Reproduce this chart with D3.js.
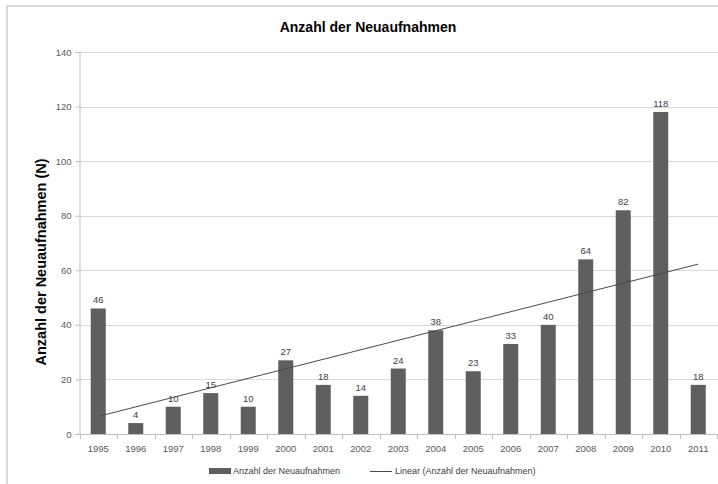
<!DOCTYPE html>
<html><head><meta charset="utf-8">
<script src="https://cdn.jsdelivr.net/npm/d3@7"></script>
<style>body{margin:0;background:#fff;} svg{display:block;font-family:"Liberation Sans",Arial,sans-serif;}</style>
</head><body>
<svg id="c" width="718" height="484"></svg>
<script>
const years = ["1995","1996","1997","1998","1999","2000","2001","2002","2003","2004","2005","2006","2007","2008","2009","2010","2011"];
const counts = [46,4,10,15,10,27,18,14,24,38,23,33,40,64,82,118,18];
const yTicks = [0,20,40,60,80,100,120,140];
const title = "Anzahl der Neuaufnahmen";
const yTitle = "Anzahl der Neuaufnahmen (N)";
const legendBar = "Anzahl der Neuaufnahmen";
const legendLine = "Linear (Anzahl der Neuaufnahmen)";

const svg = d3.select("#c");
const pLeft = 79.5, pRight = 717, pTop = 52, pBottom = 434;

// chart border
svg.append("path").attr("d","M7,484V6H718").attr("fill","none").attr("stroke","#d9d9d9").attr("stroke-width",2);

const x = d3.scaleBand().domain(years).range([pLeft,pRight]).paddingInner(0.6).paddingOuter(0.3);
const y = d3.scaleLinear().domain([0,140]).range([pBottom,pTop]);

// gridlines
svg.append("g").selectAll("line").data(yTicks.filter(d=>d>0)).join("line")
  .attr("x1",pLeft).attr("x2",718).attr("y1",d=>Math.round(y(d))+0.5).attr("y2",d=>Math.round(y(d))+0.5)
  .attr("stroke","#d9d9d9").attr("stroke-width",1);

// y axis
const ya = svg.append("g").attr("transform",`translate(${pLeft},0)`)
  .call(d3.axisLeft(y).tickValues(yTicks).tickSize(4).tickPadding(4));
ya.select(".domain").attr("stroke","#bfbfbf");
ya.selectAll(".tick line").attr("stroke","#bfbfbf");
ya.selectAll("text").attr("fill","#595959").style("font-size","9.5px").style("font-family","'Liberation Sans',Arial,sans-serif");

// bars
svg.append("g").selectAll("rect").data(counts).join("rect")
  .attr("x",(d,i)=>x(years[i])).attr("width",x.bandwidth())
  .attr("y",d=>y(d)).attr("height",d=>y(0)-y(d)).attr("fill","#5f5f5f");

// x axis
const xa = svg.append("g");
xa.append("line").attr("x1",pLeft-4).attr("x2",718).attr("y1",pBottom+0.5).attr("y2",pBottom+0.5).attr("stroke","#bfbfbf");
xa.selectAll("line.t").data(d3.range(years.length+1)).join("line").attr("class","t")
  .attr("x1",i=>Math.round(pLeft+i*x.step())+0.5)
  .attr("x2",i=>Math.round(pLeft+i*x.step())+0.5)
  .attr("y1",pBottom).attr("y2",pBottom+5).attr("stroke","#bfbfbf");
xa.selectAll("text").data(years).join("text")
  .attr("x",d=>x(d)+x.bandwidth()/2).attr("y",pBottom+18).attr("text-anchor","middle")
  .attr("fill","#595959").style("font-size","9.5px").text(d=>d);

// data labels
svg.append("g").selectAll("text").data(counts).join("text")
  .attr("x",(d,i)=>x(years[i])+x.bandwidth()/2).attr("y",d=>y(d)-5).attr("text-anchor","middle")
  .attr("fill","#404040").style("font-size","9.5px").text(d=>d);

// linear trend (least squares on the data)
const n = counts.length, xs = d3.range(n);
const mx = d3.mean(xs), my = d3.mean(counts);
const slope = d3.sum(xs,(xi,i)=>(xi-mx)*(counts[i]-my))/d3.sum(xs,xi=>(xi-mx)*(xi-mx));
const icpt = my - slope*mx;
const cx = i => x(years[i])+x.bandwidth()/2;
svg.append("line").attr("x1",cx(0)).attr("y1",y(icpt)).attr("x2",cx(n-1)).attr("y2",y(icpt+slope*(n-1)))
  .attr("stroke","#4a4a4a").attr("stroke-width",1);

// title
svg.append("text").attr("x",368).attr("y",32).attr("text-anchor","middle")
  .style("font-size","14px").style("font-weight","bold").attr("fill","#000").text(title);
svg.append("text").attr("transform","translate(46,262) rotate(-90)").attr("text-anchor","middle")
  .style("font-size","14.5px").style("font-weight","bold").attr("fill","#000").text(yTitle);

// legend
const lg = svg.append("g");
lg.append("rect").attr("x",209).attr("y",468).attr("width",22).attr("height",6).attr("fill","#5f5f5f");
lg.append("text").attr("x",233).attr("y",474).attr("fill","#404040").style("font-size","9px").text(legendBar);
lg.append("line").attr("x1",370).attr("x2",392).attr("y1",471.5).attr("y2",471.5).attr("stroke","#4a4a4a");
lg.append("text").attr("x",395).attr("y",474).attr("fill","#404040").style("font-size","9px").text(legendLine);
</script>
</body></html>
